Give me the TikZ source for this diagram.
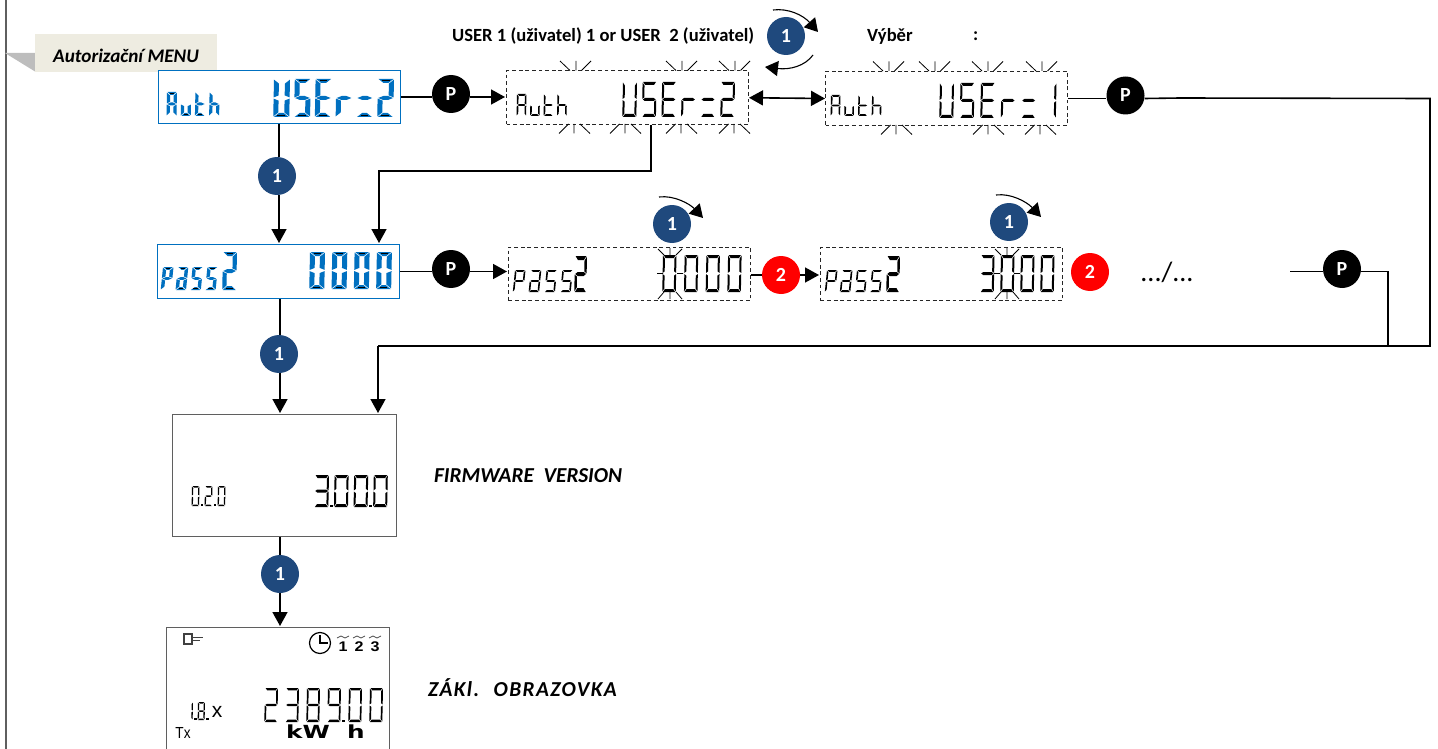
\documentclass[tikz,border=0pt]{standalone}
\usepackage{fontspec}
\setmainfont{Carlito}
\newfontfamily\lcdsans{Liberation Sans}
\newfontfamily\heavyfont{DejaVu Sans}
\usetikzlibrary{arrows.meta,calc}
\definecolor{lcdblue}{HTML}{0070C0}
\definecolor{keyblue}{HTML}{1F497D}
\definecolor{bannerfill}{HTML}{EEECE1}
\definecolor{foldfill}{HTML}{BDBDBD}
\definecolor{edgegray}{HTML}{5F5F5F}
% ---------- seven-segment text
\newif\ifLink
\def\Lsa{\fill (\Lgp,0)--(\Lw-\Lgp,0)--(\Lw-\Lgp-\Ltv,\Lth)--(\Lgp+\Ltv,\Lth)--cycle;
  \ifLink\draw[black,line width=.8pt] (\Lgp+\Ltv*.7,\Lth*.45)--(\Lw-\Lgp-\Ltv*.7,\Lth*.45);\fi}
\def\Lsb{\fill (\Lw,\Lgp)--(\Lw,\Lh/2-\Lgp)--(\Lw-\Ltv,\Lh/2-\Lgp-\Lth/2)--(\Lw-\Ltv,\Lgp+\Lth)--cycle;}
\def\Lsc{\fill (\Lw,\Lh/2+\Lgp)--(\Lw,\Lh-\Lgp)--(\Lw-\Ltv,\Lh-\Lgp-\Lth)--(\Lw-\Ltv,\Lh/2+\Lgp+\Lth/2)--cycle;}
\def\Lsd{\fill (\Lgp,\Lh)--(\Lw-\Lgp,\Lh)--(\Lw-\Lgp-\Ltv,\Lh-\Lth)--(\Lgp+\Ltv,\Lh-\Lth)--cycle;
  \ifLink\draw[black,line width=.8pt] (\Lgp+\Ltv*.7,\Lh-\Lth*.45)--(\Lw-\Lgp-\Ltv*.7,\Lh-\Lth*.45);\fi}
\def\Lse{\fill (0,\Lh/2+\Lgp)--(0,\Lh-\Lgp)--(\Ltv,\Lh-\Lgp-\Lth)--(\Ltv,\Lh/2+\Lgp+\Lth/2)--cycle;}
\def\Lsf{\fill (0,\Lgp)--(0,\Lh/2-\Lgp)--(\Ltv,\Lh/2-\Lgp-\Lth/2)--(\Ltv,\Lgp+\Lth)--cycle;}
\def\Lsg{\fill (\Lgp,\Lh/2)--(\Lgp+\Ltv,\Lh/2-\Lth/2)--(\Lw-\Lgp-\Ltv,\Lh/2-\Lth/2)--(\Lw-\Lgp,\Lh/2)--(\Lw-\Lgp-\Ltv,\Lh/2+\Lth/2)--(\Lgp+\Ltv,\Lh/2+\Lth/2)--cycle;}
\expandafter\def\csname Ls@a\endcsname{\Lsa}
\expandafter\def\csname Ls@b\endcsname{\Lsb}
\expandafter\def\csname Ls@c\endcsname{\Lsc}
\expandafter\def\csname Ls@d\endcsname{\Lsd}
\expandafter\def\csname Ls@e\endcsname{\Lse}
\expandafter\def\csname Ls@f\endcsname{\Lsf}
\expandafter\def\csname Ls@g\endcsname{\Lsg}
\def\Lglyph#1#2{\expandafter\def\csname Lg@#1\endcsname{#2}}
\Lglyph{A}{abcefg}\Lglyph{u}{cde}\Lglyph{t}{defg}\Lglyph{h}{cefg}
\Lglyph{U}{bcdef}\Lglyph{S}{acdfg}\Lglyph{E}{adefg}\Lglyph{r}{eg}\Lglyph{=}{dg}
\Lglyph{p}{abefg}\Lglyph{a}{abcdeg}\Lglyph{s}{acdfg}
\Lglyph{0}{abcdef}\Lglyph{1}{bc}\Lglyph{2}{abdeg}\Lglyph{3}{abcdg}\Lglyph{8}{abcdefg}\Lglyph{9}{abcdfg}
\def\Lsegs#1{\ifx#1\relax\else\csname Ls@#1\endcsname\expandafter\Lsegs\fi}
\def\Lchar#1{%
  \ifx#1.\relax
    \pgfmathsetmacro\Ldotx{\Lcx-\Ladv+\Lw+\Ldotgap}%
    \fill (\Ldotx,\Ly+\Lh-\Ldot) rectangle ++(\Ldot,\Ldot);%
  \else
    \begin{scope}[shift={(\Lcx,\Ly)},xslant=\Lslantv]
      \expandafter\expandafter\expandafter\Lsegs\csname Lg@#1\endcsname\relax
    \end{scope}%
    \pgfmathsetmacro\Lcx{\Lcx+\Ladv}%
  \fi}
\def\Lloop#1{\ifx#1\relax\else\Lchar{#1}\expandafter\Lloop\fi}
\def\Lslantv{.02}
\newcommand\lcdtxt[9]{%
  % #1 colour, #2 x, #3 y, #4 w, #5 h, #6 adv, #7 vertical t, #8 bar t, #9 string
  \begingroup\Linkfalse
  \def\Lfull{#1}\ifx\Lfull\Lblue\Linktrue\fi
  \def\Lcx{#2}\def\Ly{#3}\def\Lw{#4}\def\Lh{#5}\def\Ladv{#6}\def\Ltv{#7}\def\Lth{#8}\def\Lgp{.6}%
  \def\Ldot{2.4}\def\Ldotgap{1.2}%
  \begin{scope}[fill=#1]\Lloop#9\relax\end{scope}\endgroup}
\def\Lblue{lcdblue}
% ---------- blinking ticks
\newcommand\tickup[2]{\draw[blinkmark] (#1-16,#2-9.5)--(#1-6,#2) (#1,#2-9.5)--(#1,#2) (#1+15,#2-9.5)--(#1+5.5,#2);}
\newcommand\tickdn[2]{\draw[blinkmark] (#1-15,#2+9.5)--(#1-5.5,#2) (#1,#2+9.5)--(#1,#2) (#1+16,#2+9.5)--(#1+6,#2);}
\newcommand\digitblink[3]{% centre x, top y, bottom y
  \draw[blinkmark] (#1-12,#2-6)--(#1-6,#2) (#1,#2-7)--(#1,#2) (#1+12,#2-6)--(#1+6,#2)
    (#1-12,#3+7)--(#1-6,#3) (#1,#3+7)--(#1,#3) (#1+12,#3+7)--(#1+6,#3)
    (#1-13,{(#2+#3)/2})--(#1-7,{(#2+#3)/2}) (#1+7,{(#2+#3)/2})--(#1+13,{(#2+#3)/2});}
\tikzset{
  x=1pt,y=-1pt,
  lcdframe/.style={draw=lcdblue,line width=1pt,fill=white,rectangle,inner sep=0pt,anchor=north west},
  blinkframe/.style={draw=black!85,line width=1pt,dash pattern=on 3.8pt off 2.8pt,rectangle,inner sep=0pt,anchor=north west},
  grayframe/.style={draw=edgegray,line width=1pt,rectangle,inner sep=0pt,anchor=north west},
  openframe/.style={rectangle,inner sep=0pt,anchor=north west},
  keybase/.style={circle,minimum size=38pt,inner sep=0pt,text=white,font=\fontsize{20}{20}\selectfont\bfseries},
  keyP/.style={keybase,fill=black},
  keyone/.style={keybase,fill=keyblue},
  keytwo/.style={keybase,fill=red},
  flow/.style={line width=1.6pt,draw=black,-{Triangle[length=14pt,width=15pt]},shorten >=1pt},
  flowtwo/.style={line width=1.6pt,draw=black,{Triangle[length=14pt,width=15pt]}-{Triangle[length=14pt,width=15pt]}},
  wire/.style={line width=1.6pt,draw=black},
  turn/.style={line width=1.1pt,draw=black,-{Triangle[length=13pt,width=15pt]}},
  blinkmark/.style={line width=.8pt,draw=black},
  note/.style={font=\fontsize{18.6}{18.6}\selectfont\bfseries,text=black,inner sep=0pt,anchor=west},
  notei/.style={font=\fontsize{21.3}{21.3}\selectfont\bfseries\itshape,text=black,inner sep=0pt,anchor=west},
}
\begin{document}
\begin{tikzpicture}
\useasboundingbox (0,0) rectangle (1438,749);
% page edge + banner
\coordinate (edgetop) at (5.5,0); \coordinate (edgebot) at (5.5,749);
\draw[draw=edgegray,line width=2pt] (edgetop)--(edgebot);
\fill[foldfill] (5,53)--(35,53)--(35,71.5)--cycle;
\node[rectangle,fill=bannerfill,minimum width=182pt,minimum height=38pt,inner sep=0pt,anchor=north west] (banner) at (35,34) {};
\node[font=\fontsize{19.2}{19.2}\selectfont\bfseries\itshape,inner sep=0pt] (bannertext) at (126,56) {Autorizační MENU};

% frames
\node[lcdframe,minimum width=242pt,minimum height=53pt] (boxA) at (158,70) {};
\node[blinkframe,minimum width=242pt,minimum height=53.5pt] (boxB) at (506,70.5) {};
\node[blinkframe,minimum width=242pt,minimum height=54pt] (boxC) at (825,71) {};
\node[lcdframe,minimum width=242pt,minimum height=54pt] (boxD) at (157,244) {};
\node[blinkframe,minimum width=242pt,minimum height=53.5pt] (boxE) at (508,246.5) {};
\node[blinkframe,minimum width=242pt,minimum height=53pt] (boxF) at (820,247) {};
\node[grayframe,minimum width=224pt,minimum height=122pt] (boxG) at (172,414) {};
\node[openframe,minimum width=223pt,minimum height=122pt] (boxH) at (166,627) {};
\draw[draw=edgegray,line width=1pt] (boxH.south west)--(boxH.north west)--(boxH.north east)--(boxH.south east);

% LCD readouts
\lcdtxt{lcdblue}{167}{92}{10}{24}{14.2}{3.2}{3}{Auth}
\lcdtxt{lcdblue}{274}{79}{16}{38}{20.8}{5}{4}{USEr=2}
\lcdtxt{black}{517}{94}{9.5}{22}{13.5}{1.6}{1.8}{Auth}
\lcdtxt{black}{623}{82}{14}{35}{19.6}{2}{3}{USEr=2}
\lcdtxt{black}{831}{95}{9.5}{21}{13.7}{1.6}{1.8}{Auth}
\lcdtxt{black}{940}{83}{14}{35}{20.5}{2}{3}{USEr=1}
\def\Lslantv{.1}
\lcdtxt{lcdblue}{163}{267}{10.5}{23}{14.8}{3.4}{2.8}{pass}
\lcdtxt{black}{515}{270}{10.5}{22}{15.8}{1.6}{1.8}{pass}
\lcdtxt{black}{827}{270}{10.5}{22}{15}{1.6}{1.8}{pass}
\def\Lslantv{.02}
\lcdtxt{lcdblue}{223}{252}{14}{38}{14}{4.2}{4}{2}
\lcdtxt{lcdblue}{310}{252}{15}{37}{22.3}{5}{4}{0000}
\lcdtxt{black}{575}{256}{12}{36}{12}{2.4}{4}{2}
\lcdtxt{black}{663}{255}{13.5}{37}{21.7}{2}{3}{0000}
\lcdtxt{black}{887}{256}{13}{36}{12}{2.4}{4}{2}
\lcdtxt{black}{981}{255}{13.5}{37}{20}{2}{3}{3000}
\lcdtxt{black}{192}{486}{7.5}{20}{13}{1.3}{1.5}{0.2.0}
\lcdtxt{black}{315}{475}{14}{32}{19.6}{2}{3}{3.00.0}
\lcdtxt{black}{186}{702}{7}{18}{12}{1.3}{1.5}{1.8.}
\lcdtxt{black}{265}{688}{13}{34}{21}{1.7}{2.4}{2389.00}

% blink marks
\tickup{576}{70.5}\tickup{682}{70.5}\tickup{735}{70.5}
\tickdn{574}{124}\tickdn{625}{124}\tickdn{681}{124}\tickdn{734}{124}
\tickup{889}{71}\tickup{935}{71}\tickup{988}{71}\tickup{1042}{71}
\tickdn{896}{125}\tickdn{988}{125}\tickdn{1040}{125}
\digitblink{670}{255}{292}
\digitblink{1007}{255}{292}

% keys
\node[keyP] (pA) at (451,94) {P};
\node[keyP] (pC) at (1125.5,95.5) {P};
\node[keyP] (pD) at (451,269) {P};
\node[keyP] (pF) at (1342,269) {P};
\node[keyone] (oneA) at (277,176) {1};
\node[keyone] (oneD) at (279,354) {1};
\node[keyone] (oneG) at (280,574) {1};
\node[keyone] (oneB) at (786,36) {1};
\node[keyone] (oneE) at (672,224) {1};
\node[keyone] (oneF) at (1009,222) {1};
\node[keytwo] (twoE) at (781,275) {2};
\node[keytwo] (twoF) at (1090,272) {2};

% connectors: top row
\draw[wire] (boxA.east)--(boxA.east -| pA.west);
\draw[flow] (boxA.east -| pA.east)--(boxB.west |- boxA.east);
\draw[flowtwo] (boxB.east)--(boxC.west);
\coordinate (dropB) at (651,171);
\coordinate (dropD) at (379,171);
\draw[flow] (dropB |- boxB.south)--(dropB)--(dropD)--(dropD |- boxD.north);
% connectors: first column
\coordinate (colA) at (279,200);
\draw[wire] (colA |- boxA.south)--(colA |- oneA.north);
\draw[flow] (colA |- oneA.south)--(colA |- boxD.north);
\coordinate (colB) at (280,400);
\draw[wire] (colB |- boxD.south)--(colB |- oneD.north);
\draw[flow] (colB |- oneD.south)--(colB |- boxG.north);
\draw[wire] (colB |- boxG.south)--(colB |- oneG.north);
\draw[flow] (colB |- oneG.south)--(colB |- boxH.north);
% connectors: second row
\draw[wire] (boxD.east)--(boxD.east -| pD.west);
\draw[flow] (boxD.east -| pD.east)--(boxE.west |- boxD.east);
\draw[wire] (boxE.east |- twoE)--(twoE.west);
\draw[flow] (twoE.east)--(boxF.west |- twoE);
% connectors: return path
\coordinate (jog) at (1180,98);
\coordinate (rightTop) at (1430,98.5);
\coordinate (rightBot) at (1430,346);
\coordinate (leftBot) at (378,346);
\coordinate (joinB) at (1388,346);
\coordinate (stubF) at (1290,271.5);
\draw[wire] (boxC.east)--(boxC.east -| pC.west);
\draw[wire] (boxC.east -| pC.east)--(jog)--(rightTop)--(rightBot)--(leftBot);
\draw[flow] (leftBot)--(leftBot |- boxG.north);
\draw[wire] (stubF)--(stubF -| pF.west);
\draw[wire] (stubF -| pF.east)--(stubF -| joinB)--(joinB);
% rotary arrows
\coordinate (rotAs) at (773,10); \coordinate (rotAe) at (818,32);
\coordinate (rotBs) at (813,55); \coordinate (rotBe) at (765,67);
\coordinate (rotEs) at (659,197); \coordinate (rotEe) at (703,218);
\coordinate (rotFs) at (996,195); \coordinate (rotFe) at (1041,217);
\draw[turn] (rotAs) .. controls (788,8) and (803,15) .. (rotAe);
\draw[turn] (rotBs) .. controls (805,66) and (790,70) .. (rotBe);
\draw[turn] (rotEs) .. controls (674,195) and (690,204) .. (rotEe);
\draw[turn] (rotFs) .. controls (1011,193) and (1027,202) .. (rotFe);

% notes
\node[note] (usernote) at (452,36) {USER 1 (uživatel) 1 or USER \ 2 (uživatel)};
\node[note] (vyber) at (867,36) {Výběr};
\node[note] (colon) at (973,36) {:};
\node[notei] (fw) at (434,476) {FIRMWARE \ VERSION};
\node[notei] (zaki) at (428,688) {\addfontfeature{LetterSpace=6.5}ZÁKl. \ OBRAZOVKA};
\node[font=\fontsize{28}{28}\selectfont,inner sep=0pt] (etc) at (1167,272) {.../...};

% bottom screen extras
\node[font=\lcdsans\fontsize{21}{21}\selectfont,inner sep=0pt] (xmark) at (217,712) {x};
\node[font=\lcdsans\fontsize{16}{16}\selectfont,inner sep=0pt,xscale=.85] (txmark) at (183,733) {Tx};
\node[font=\heavyfont\bfseries\fontsize{19}{19}\selectfont,inner sep=0pt,xscale=1.3,yscale=.95] (kw) at (308,732) {kW};
\node[font=\heavyfont\bfseries\fontsize{19}{19}\selectfont,inner sep=0pt,xscale=1.3,yscale=.95] (hmark) at (356,732) {h};
% plug icon
\draw[line width=1.1pt,draw=black!75] (184,634)--(192,634)--(192,644)--(184,644)--cycle (192,637.5)--(203,637.5) (192,640.5)--(200,640.5);
% clock
\coordinate (clockc) at (320,643);
\draw[line width=1.2pt] (clockc) circle[radius=10.5pt];
\draw[line width=1.4pt] (320,635)--(clockc)--(328,643);
% tariff digits
\node[font=\lcdsans\bfseries\fontsize{14}{14}\selectfont,inner sep=0pt,xscale=1.15] (tone) at (343,647) {1};
\node[font=\lcdsans\bfseries\fontsize{14}{14}\selectfont,inner sep=0pt,xscale=1.15] (ttwo) at (359,647) {2};
\node[font=\lcdsans\bfseries\fontsize{14}{14}\selectfont,inner sep=0pt,xscale=1.15] (tthree) at (375,647) {3};
\foreach \mx in {343,359,375}{
  \draw[line width=.7pt,draw=black!70] (\mx-6,638)--(\mx-2,636)--(\mx+2,638)--(\mx+6,636);
}
\end{tikzpicture}
\end{document}
